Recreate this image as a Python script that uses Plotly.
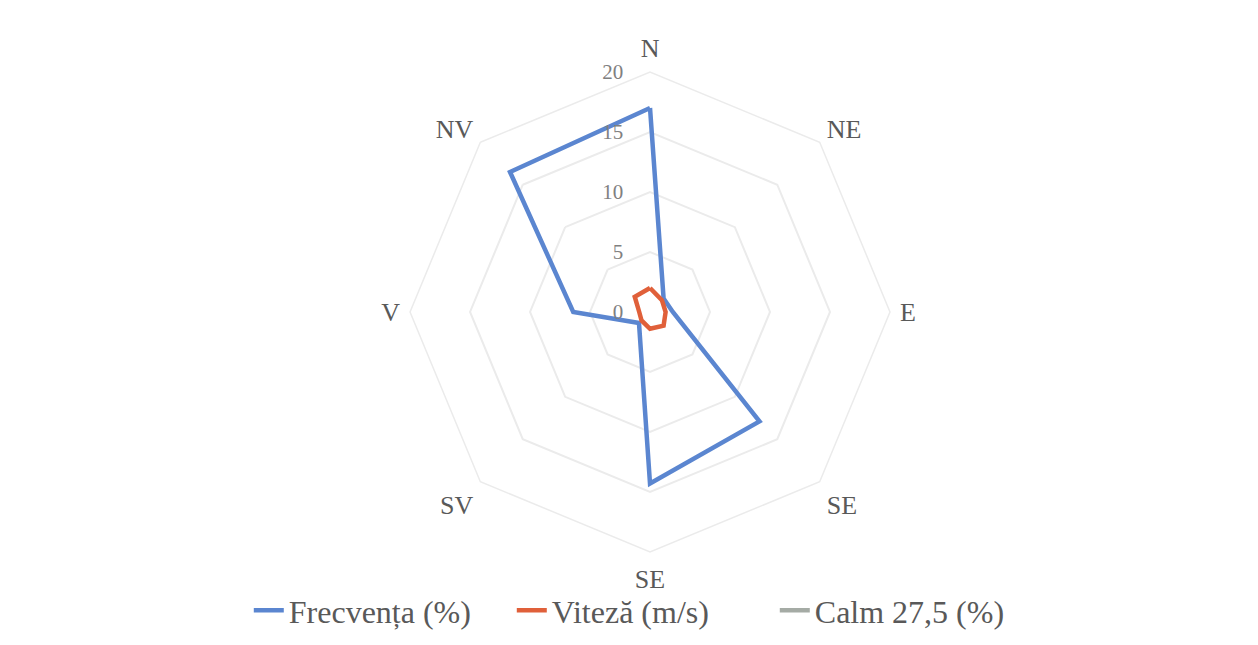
import plotly.graph_objects as go

category_keys = ["N", "NE", "E", "SE", "S", "SV", "V", "NV"]
category_labels = ["N", "NE", "E", "SE", "SE", "SV", "V", "NV"]
frecventa = [17.0, 1.6, 1.9, 12.9, 14.3, 1.3, 6.4, 16.5]
viteza = [2.0, 1.4, 1.3, 1.6, 1.4, 1.0, 0.9, 1.8]
calm = [None] * 8
radial_ticks = [0, 5, 10, 15, 20]

def closed(v):
    return list(v) + [v[0]]

font_family = "Liberation Serif, DejaVu Serif, serif"

fig = go.Figure()
fig.add_trace(go.Scatterpolar(r=closed(frecventa), theta=closed(category_keys), mode="lines",
                              name="Frecvența (%)", line=dict(color="#5B86D0", width=4.5)))
fig.add_trace(go.Scatterpolar(r=closed(viteza), theta=closed(category_keys), mode="lines",
                              name="Viteză (m/s)", line=dict(color="#E0603A", width=4.5)))
fig.add_trace(go.Scatterpolar(r=closed(calm), theta=closed(category_keys), mode="lines",
                              name="Calm 27,5 (%)", line=dict(color="#A5ABA5", width=4.5)))

fig.update_layout(
    width=1258, height=645,
    paper_bgcolor="white", plot_bgcolor="white",
    margin=dict(l=0, r=0, t=0, b=0),
    font=dict(family=font_family, color="#595959"),
    polar=dict(
        domain=dict(x=[0.3196, 0.7011], y=[0.1566, 0.9008]),
        bgcolor="white",
        gridshape="linear",
        angularaxis=dict(
            type="category", categoryorder="array", categoryarray=category_keys,
            direction="clockwise", rotation=90,
            tickmode="array", tickvals=category_keys, ticktext=category_labels,
            showgrid=False, showline=True, linecolor="#EBEBEB", linewidth=1.5,
            ticks="outside", ticklen=4, tickcolor="rgba(0,0,0,0)",
            tickfont=dict(size=26, color="#595959"),
        ),
        radialaxis=dict(
            range=[0, 20], tickvals=radial_ticks, angle=90, side="counterclockwise",
            showline=False, ticks="outside", ticklen=19, tickcolor="rgba(0,0,0,0)",
            gridcolor="#EBEBEB", gridwidth=1.5,
            tickfont=dict(size=21, color="#808080"), tickangle=90,
        ),
    ),
    legend=dict(orientation="h", x=0.505, xanchor="center", y=0.066, yanchor="middle",
                bgcolor="rgba(0,0,0,0)", entrywidth=218,
                font=dict(size=32, color="#595959")),
)

fig.write_html("out.html")
